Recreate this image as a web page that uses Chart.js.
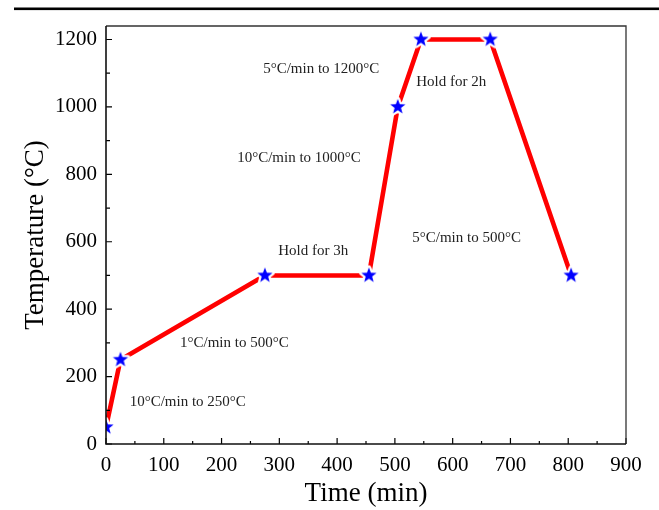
<!DOCTYPE html>
<html lang="en">
<head>
  <meta charset="UTF-8">
  <title>Heat treatment schedule</title>
  <script src="https://cdn.jsdelivr.net/npm/chart.js"></script>
  <style>
    html, body { margin: 0; padding: 0; background: #fff; }
    #wrap { width: 659px; height: 510px; }
  </style>
</head>
<body>
  <div id="wrap"><canvas id="schedule"></canvas></div>

  <script>
    // schedule points: time (min) and temperature (°C)
    const timeMin = [0, 25, 275, 455, 505, 545, 665, 805];
    const tempC = [50, 250, 500, 500, 1000, 1200, 1200, 500];

    // axis ticks
    const xTicks = [0, 100, 200, 300, 400, 500, 600, 700, 800, 900];
    const yTicks = [0, 200, 400, 600, 800, 1000, 1200];

    // step notes
    const stepText = [
      '10\u00B0C/min to 250\u00B0C',
      '1\u00B0C/min to 500\u00B0C',
      'Hold for 3h',
      '10\u00B0C/min to 1000\u00B0C',
      '5\u00B0C/min to 1200\u00B0C',
      'Hold for 2h',
      '5\u00B0C/min to 500\u00B0C'
    ];
    // where each note sits (left edge, in data units)
    const stepAt = [
      [41, 125], [128, 300], [298, 573], [227, 848],
      [272, 1112], [537, 1074], [530, 611]
    ];

    const serif = "'Times New Roman', 'Liberation Serif', serif";

    // filled five point star with a white rim (gives the gap to the line)
    function makeStar(r) {
      const size = Math.ceil(r * 2 + 8);
      const c = document.createElement('canvas');
      c.width = size;
      c.height = size;
      const g = c.getContext('2d');
      g.translate(size / 2, size / 2);
      g.beginPath();
      for (let i = 0; i < 10; i++) {
        const rad = i % 2 ? r * 0.42 : r;
        const a = -Math.PI / 2 + i * Math.PI / 5;
        g.lineTo(Math.cos(a) * rad, Math.sin(a) * rad);
      }
      g.closePath();
      g.lineJoin = 'round';
      g.strokeStyle = '#fff';
      g.lineWidth = 4.5;
      g.stroke();
      g.fillStyle = '#0000ff';
      g.fill();
      return c;
    }

    // box, inward ticks, notes and the rule on top
    const decor = {
      id: 'decor',
      afterDatasetsDraw(chart) {
        const { ctx, chartArea: a, scales: { x, y } } = chart;
        ctx.save();

        ctx.strokeStyle = '#000';
        ctx.lineWidth = 1.2;
        ctx.beginPath();
        for (let i = 0; i < xTicks.length; i++) {
          const px = x.getPixelForValue(xTicks[i]);
          ctx.moveTo(px, a.bottom);
          ctx.lineTo(px, a.bottom - 6);
          if (i < xTicks.length - 1) {
            const mx = x.getPixelForValue((xTicks[i] + xTicks[i + 1]) / 2);
            ctx.moveTo(mx, a.bottom);
            ctx.lineTo(mx, a.bottom - 3);
          }
        }
        for (let i = 0; i < yTicks.length; i++) {
          const py = y.getPixelForValue(yTicks[i]);
          ctx.moveTo(a.left, py);
          ctx.lineTo(a.left + 6, py);
          if (i < yTicks.length - 1) {
            const my = y.getPixelForValue((yTicks[i] + yTicks[i + 1]) / 2);
            ctx.moveTo(a.left, my);
            ctx.lineTo(a.left + 4, my);
          }
        }
        ctx.stroke();

        // top and right edges
        ctx.strokeStyle = '#333';
        ctx.lineWidth = 1.3;
        ctx.beginPath();
        ctx.moveTo(a.left, a.top);
        ctx.lineTo(a.right, a.top);
        ctx.lineTo(a.right, a.bottom);
        ctx.stroke();

        // axes
        ctx.strokeStyle = '#111';
        ctx.lineWidth = 1.6;
        ctx.beginPath();
        ctx.moveTo(a.left, a.top);
        ctx.lineTo(a.left, a.bottom);
        ctx.lineTo(a.right, a.bottom);
        ctx.stroke();

        // notes
        ctx.fillStyle = '#222';
        ctx.font = '15px ' + serif;
        ctx.textAlign = 'left';
        ctx.textBaseline = 'middle';
        stepText.forEach((t, i) => {
          ctx.fillText(t, x.getPixelForValue(stepAt[i][0]), y.getPixelForValue(stepAt[i][1]));
        });

        // rule across the top of the figure
        ctx.fillStyle = '#000';
        ctx.fillRect(14, 7.5, chart.width - 14, 2.6);

        ctx.restore();
      }
    };

    const ctx = document.getElementById('schedule').getContext('2d');

    new Chart(ctx, {
      type: 'line',
      data: {
        datasets: [{
          data: timeMin.map((t, i) => ({ x: t, y: tempC[i] })),
          borderColor: '#ff0000',
          borderWidth: 4.6,
          borderJoinStyle: 'round',
          borderCapStyle: 'round',
          tension: 0,
          pointStyle: makeStar(8),
          clip: 0
        }]
      },
      options: {
        responsive: true,
        maintainAspectRatio: false,
        animation: false,
        layout: { padding: { left: 0, right: 33, top: 26, bottom: 0 } },
        plugins: {
          legend: { display: false },
          tooltip: { enabled: false }
        },
        scales: {
          x: {
            type: 'linear',
            min: 0,
            max: 900,
            grid: { display: false, drawTicks: false },
            border: { display: false },
            afterBuildTicks(scale) {
              scale.ticks = xTicks.map(v => ({ value: v }));
            },
            ticks: {
              padding: 9,
              color: '#000',
              font: { family: serif, size: 21 },
              callback: v => String(v)
            },
            title: {
              display: true,
              text: 'Time (min)',
              color: '#000',
              font: { family: serif, size: 27 },
              padding: { top: 0, bottom: 0 }
            },
            afterFit(scale) {
              scale.height = 66;
              scale.paddingLeft = 0;
              scale.paddingRight = 0;
            }
          },
          y: {
            min: 0,
            max: 1240,
            grid: { display: false, drawTicks: false },
            border: { display: false },
            afterBuildTicks(scale) {
              scale.ticks = yTicks.map(v => ({ value: v }));
            },
            ticks: {
              padding: 9,
              color: '#000',
              font: { family: serif, size: 21 },
              callback: v => String(v)
            },
            title: {
              display: true,
              text: 'Temperature (\u00B0C)',
              color: '#000',
              font: { family: serif, size: 27 },
              padding: { top: 20, bottom: 0 }
            },
            afterFit(scale) {
              scale.width = 106;
              scale.paddingTop = 0;
              scale.paddingBottom = 0;
            }
          }
        }
      },
      plugins: [decor]
    });
  </script>
</body>
</html>
